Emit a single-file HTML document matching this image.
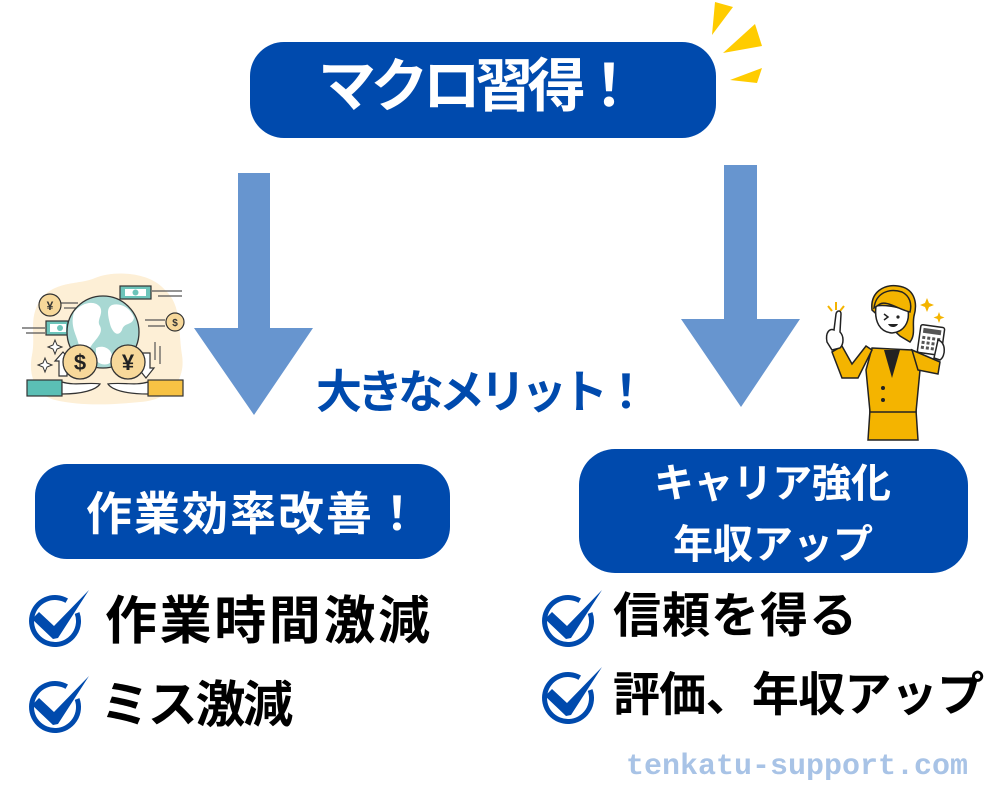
<!DOCTYPE html>
<html><head><meta charset="utf-8">
<style>
html,body{margin:0;padding:0;background:#fff;}
body{width:1000px;height:800px;position:relative;overflow:hidden;}
.t{position:absolute;white-space:nowrap;line-height:1;font-family:"Liberation Sans","Noto Sans CJK JP",sans-serif;font-weight:700;}
.box{position:absolute;background:#004AAD;}
svg{position:absolute;overflow:visible;}
</style></head>
<body>

<!-- top box -->
<div class="box" style="left:250px;top:42px;width:466px;height:96px;border-radius:34px;"></div>
<div class="t" style="left:318px;top:58px;font-size:58px;letter-spacing:-5.6px;color:#fff;">マクロ習得！</div>

<!-- yellow rays -->
<svg style="left:0;top:0" width="1000" height="800">
  <polygon points="715,2 733,7 712,35" fill="#FFCC00"/>
  <polygon points="755,24 762,46 723,53" fill="#FFCC00"/>
  <polygon points="730,80 762,68 757,83" fill="#FFCC00"/>
  <!-- arrows -->
  <polygon points="238,173 270,173 270,328 313,328 254,415 194,328 238,328" fill="#6795CF"/>
  <polygon points="724,165 757,165 757,319 800,319 741,407 681,319 724,319" fill="#6795CF"/>
</svg>

<!-- middle text -->
<div class="t" style="left:316px;top:369px;font-size:46px;letter-spacing:-5px;color:#004AAD;">大きなメリット！</div>

<!-- left box -->
<div class="box" style="left:35px;top:464px;width:415px;height:95px;border-radius:32px;"></div>
<div class="t" style="left:86px;top:491px;font-size:46px;letter-spacing:2px;color:#fff;">作業効率改善！</div>

<!-- right box -->
<div class="box" style="left:579px;top:449px;width:389px;height:124px;border-radius:36px;"></div>
<div class="t" style="left:654px;top:464px;font-size:40px;letter-spacing:-0.6px;color:#fff;">キャリア強化</div>
<div class="t" style="left:673px;top:525px;font-size:40px;letter-spacing:0px;color:#fff;">年収アップ</div>

<!-- check icons -->
<svg style="left:20px;top:585px" width="70" height="70" viewBox="0 0 70 70">
  <path d="M57.1,27.96 A23.5,23.5 0 1 1 46.75,15.65" fill="none" stroke="#004AAD" stroke-width="5"/>
  <polygon points="12,34 19,27 34,41 69,5 38,53 33,54" fill="#004AAD"/>
</svg>
<svg style="left:20px;top:671px" width="70" height="70" viewBox="0 0 70 70">
  <path d="M57.1,27.96 A23.5,23.5 0 1 1 46.75,15.65" fill="none" stroke="#004AAD" stroke-width="5"/>
  <polygon points="12,34 19,27 34,41 69,5 38,53 33,54" fill="#004AAD"/>
</svg>
<svg style="left:533px;top:585px" width="70" height="70" viewBox="0 0 70 70">
  <path d="M57.1,27.96 A23.5,23.5 0 1 1 46.75,15.65" fill="none" stroke="#004AAD" stroke-width="5"/>
  <polygon points="12,34 19,27 34,41 69,5 38,53 33,54" fill="#004AAD"/>
</svg>
<svg style="left:533px;top:662px" width="70" height="70" viewBox="0 0 70 70">
  <path d="M57.1,27.96 A23.5,23.5 0 1 1 46.75,15.65" fill="none" stroke="#004AAD" stroke-width="5"/>
  <polygon points="12,34 19,27 34,41 69,5 38,53 33,54" fill="#004AAD"/>
</svg>

<!-- list texts -->
<div class="t" style="left:105px;top:596px;font-size:52px;letter-spacing:2.6px;color:#000;">作業時間激減</div>
<div class="t" style="left:100px;top:680px;font-size:50px;letter-spacing:-2.3px;color:#000;">ミス激減</div>
<div class="t" style="left:613px;top:593px;font-size:48px;letter-spacing:1px;color:#000;">信頼を得る</div>
<div class="t" style="left:613px;top:671px;font-size:47px;letter-spacing:-0.7px;color:#000;">評価、年収アップ</div>

<!-- watermark -->
<div class="t" style="left:626px;top:752px;font-size:30px;font-family:'Liberation Mono',monospace;color:#A8C3E6;">tenkatu-support.com</div>

<!-- globe illustration -->
<svg style="left:0;top:260px" width="200" height="150" viewBox="0 0 200 150">
  <path d="M40,40 C55,20 80,25 95,18 C115,10 150,12 165,30 C182,45 178,70 182,95 C186,120 170,140 140,142 C110,145 80,146 55,140 C35,135 28,115 32,95 C36,75 28,60 40,40 Z" fill="#FDEFD6"/>
  <g stroke="#555" stroke-width="1.2">
    <line x1="152" y1="31" x2="182" y2="31"/><line x1="158" y1="36" x2="182" y2="36"/>
    <line x1="60" y1="43" x2="78" y2="43"/><line x1="64" y1="48" x2="78" y2="48"/>
    <line x1="22" y1="68" x2="45" y2="68"/><line x1="26" y1="73" x2="45" y2="73"/>
    <line x1="145" y1="60" x2="165" y2="60"/><line x1="148" y1="66" x2="165" y2="66"/>
    <line x1="155" y1="82" x2="155" y2="100"/><line x1="160" y1="86" x2="160" y2="104"/>
  </g>
  <rect x="120" y="26" width="31" height="13" fill="#6CC4BA" stroke="#333" stroke-width="1.2"/>
  <rect x="125" y="29" width="21" height="7" fill="#fff"/>
  <circle cx="135.5" cy="32.5" r="3" fill="#6CC4BA"/>
  <rect x="46" y="61" width="22" height="14" fill="#6CC4BA" stroke="#333" stroke-width="1.2"/>
  <rect x="50" y="64" width="16" height="8" fill="#fff"/>
  <circle cx="60" cy="68" r="3" fill="#6CC4BA"/>
  <circle cx="50" cy="45" r="11" fill="#F7D89A" stroke="#333" stroke-width="1.2"/>
  <text x="50" y="50" font-family="Liberation Sans,sans-serif" font-size="12" font-weight="700" text-anchor="middle" fill="#333">¥</text>
  <circle cx="175" cy="62" r="9" fill="#F7D89A" stroke="#333" stroke-width="1.2"/>
  <text x="175" y="66" font-family="Liberation Sans,sans-serif" font-size="10" font-weight="700" text-anchor="middle" fill="#333">$</text>
  <circle cx="103" cy="72" r="36" fill="#A8D8D3" stroke="#333" stroke-width="1.3"/>
  <path d="M74,52 C82,42 95,40 100,47 C104,54 96,60 100,66 C104,74 94,80 90,88 C86,96 80,90 78,82 C76,74 70,66 74,52 Z" fill="#fff"/>
  <path d="M112,45 C122,42 132,50 134,58 C132,66 124,62 122,70 C118,78 112,72 110,64 C108,56 106,48 112,45 Z" fill="#fff"/>
  <path d="M96,88 C104,84 114,90 112,100 C110,106 100,106 96,100 Z" fill="#fff"/>
  <polygon points="63,92 71,101 67,101 67,116 59,116 59,101 55,101" fill="#fff" stroke="#333" stroke-width="1.2"/>
  <polygon points="146,118 154,108 150,108 150,93 142,93 142,108 138,108" fill="#fff" stroke="#333" stroke-width="1.2"/>
  <path d="M55,80 l2,5 l5,2 l-5,2 l-2,5 l-2,-5 l-5,-2 l5,-2 Z" fill="#fff" stroke="#333" stroke-width="1"/>
  <path d="M45,98 l2,5 l5,2 l-5,2 l-2,5 l-2,-5 l-5,-2 l5,-2 Z" fill="#fff" stroke="#333" stroke-width="1"/>
  <circle cx="80" cy="102" r="17" fill="#F7D89A" stroke="#333" stroke-width="1.3"/>
  <text x="80" y="110" font-family="Liberation Sans,sans-serif" font-size="22" font-weight="700" text-anchor="middle" fill="#222">$</text>
  <circle cx="128" cy="102" r="17" fill="#F7D89A" stroke="#333" stroke-width="1.3"/>
  <text x="128" y="110" font-family="Liberation Sans,sans-serif" font-size="22" font-weight="700" text-anchor="middle" fill="#222">¥</text>
  <rect x="27" y="120" width="35" height="16" fill="#5BBFB5" stroke="#333" stroke-width="1.2"/>
  <path d="M62,122 C75,126 88,122 100,124 C96,130 82,134 62,134 Z" fill="#fff" stroke="#333" stroke-width="1.2"/>
  <rect x="148" y="120" width="35" height="16" fill="#F7C244" stroke="#333" stroke-width="1.2"/>
  <path d="M148,122 C135,126 122,122 108,124 C112,130 126,134 148,134 Z" fill="#fff" stroke="#333" stroke-width="1.2"/>
</svg>

<!-- woman illustration -->
<svg style="left:800px;top:270px" width="200" height="180" viewBox="0 0 200 180">
  <g stroke="#F4B400" stroke-width="2">
    <line x1="36" y1="32" x2="36" y2="40"/><line x1="28" y1="36" x2="32" y2="41"/><line x1="44" y1="36" x2="40" y2="41"/>
  </g>
  <path d="M127,28 l2,5 l5,2 l-5,2 l-2,5 l-2,-5 l-5,-2 l5,-2 Z" fill="#F4B400"/>
  <path d="M139,42 l1.5,4 l4,1.5 l-4,1.5 l-1.5,4 l-1.5,-4 l-4,-1.5 l4,-1.5 Z" fill="#F4B400"/>
  <path d="M72,40 C70,22 84,14 98,16 C114,18 118,32 114,46 C112,56 116,64 110,72 L100,66 Z" fill="#F4B400" stroke="#222" stroke-width="1.5"/>
  <path d="M70,140 L116,140 L118,170 L68,170 Z" fill="#F4B400" stroke="#222" stroke-width="1.5"/>
  <path d="M72,78 L112,80 L120,100 L116,142 L70,142 L66,100 Z" fill="#F4B400" stroke="#222" stroke-width="1.5"/>
  <path d="M84,80 L100,80 L92,108 Z" fill="#222"/>
  <circle cx="83" cy="118" r="2" fill="#222"/><circle cx="83" cy="130" r="2" fill="#222"/>
  <path d="M72,80 L58,108 L42,108 L32,82 L42,76 L52,94 L66,76 Z" fill="#F4B400" stroke="#222" stroke-width="1.5"/>
  <path d="M27,72 C25,62 30,58 34,60 L36,44 C37,40 41,40 41,44 L40,62 C44,66 44,74 40,78 L32,80 Z" fill="#fff" stroke="#222" stroke-width="1.5"/>
  <path d="M112,80 L140,92 L138,104 L118,100 Z" fill="#F4B400" stroke="#222" stroke-width="1.5"/>
  <rect x="119" y="56" width="24" height="28" rx="2" fill="#fff" stroke="#222" stroke-width="1.5" transform="rotate(8 131 70)"/>
  <g fill="#555" transform="rotate(8 131 70)">
    <rect x="122" y="59" width="18" height="5"/>
    <rect x="122" y="67" width="3" height="3"/><rect x="127" y="67" width="3" height="3"/><rect x="132" y="67" width="3" height="3"/><rect x="137" y="67" width="3" height="3"/>
    <rect x="122" y="72" width="3" height="3"/><rect x="127" y="72" width="3" height="3"/><rect x="132" y="72" width="3" height="3"/><rect x="137" y="72" width="3" height="3"/>
    <rect x="122" y="77" width="3" height="3"/><rect x="127" y="77" width="3" height="3"/><rect x="132" y="77" width="3" height="3"/><rect x="137" y="77" width="3" height="3"/>
  </g>
  <path d="M138,70 C146,72 146,86 140,90 L134,88 Z" fill="#fff" stroke="#222" stroke-width="1.5"/>
  <path d="M76,36 C74,52 80,62 92,63 C104,62 110,52 108,40 C100,38 86,34 76,36 Z" fill="#fff" stroke="#222" stroke-width="1.5"/>
  <path d="M74,38 C76,22 90,18 102,22 C110,26 112,34 110,42 C100,40 86,30 80,34 Z" fill="#F4B400" stroke="#222" stroke-width="1.5"/>
  <path d="M84,44 l4,3 l-4,3" fill="none" stroke="#222" stroke-width="1.5"/>
  <circle cx="98" cy="47" r="1.6" fill="#222"/>
  <path d="M88,54 C90,58 96,58 98,54 Z" fill="#222"/>
</svg>

</body></html>
